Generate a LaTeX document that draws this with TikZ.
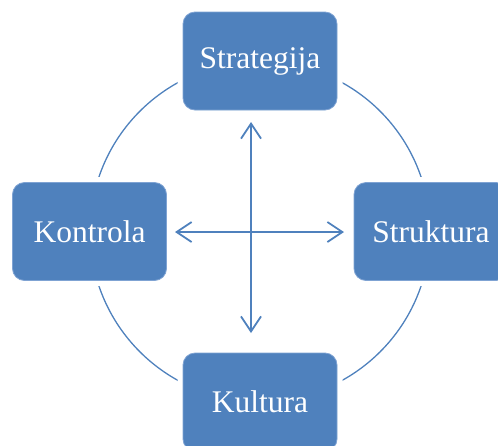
\documentclass[tikz,border=0pt]{standalone}
\usepackage{fontspec}
\setmainfont{Liberation Serif}
\usetikzlibrary{arrows.meta}
\definecolor{obl}{HTML}{4F81BD}
\definecolor{obledge}{HTML}{7FA3D3}
\tikzset{
  box/.style={fill=obl, draw=obledge, line width=0.8pt, rounded corners=12pt,
    minimum width=154pt, minimum height=98pt, inner sep=0pt,
    text=white, font=\fontsize{31.5}{36}\selectfont,
    preaction={draw=white, line width=11pt}},
  ring/.style={draw=obl, line width=1.3pt},
  cross/.style={draw=obl, line width=1.8pt, {Straight Barb[length=15pt,width=20pt]}-{Straight Barb[length=15pt,width=20pt]}}
}
\begin{document}
\begin{tikzpicture}[x=1pt,y=-1pt]
\useasboundingbox (0,0) rectangle (498,445);
\clip (0,0) rectangle (498,445);
\coordinate (c) at (260,231.5);
\draw[ring] (c) circle (170);
\node[box] (str) at (260,61) {Strategija};
\node[box] (kon) at (89.5,231.5) {Kontrola};
\node[box] (stu) at (431,231.5) {Struktura};
\node[box] (kul) at (260,402) {Kultura};
\coordinate (top) at (251,122);
\coordinate (bot) at (251,333);
\coordinate (lft) at (175,232);
\coordinate (rgt) at (344,232);
\draw[cross] (top) -- (bot);
\draw[cross] (lft) -- (rgt);
\end{tikzpicture}
\end{document}
